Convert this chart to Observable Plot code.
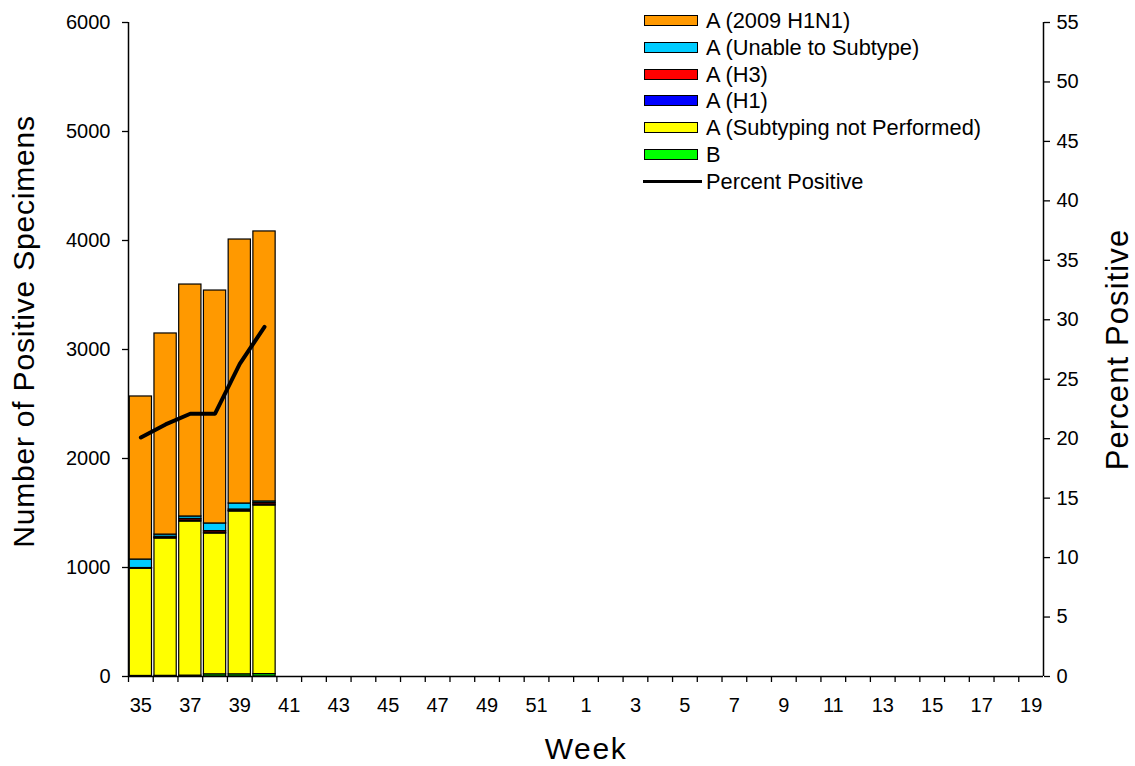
<!DOCTYPE html>
<html>
<head>
<meta charset="utf-8">
<script src="https://cdn.jsdelivr.net/npm/d3@7"></script>
<script src="https://cdn.jsdelivr.net/npm/@observablehq/plot@0.6"></script>
<style>
  html, body { margin: 0; padding: 0; background: #fff; }
  #wrap { position: relative; width: 1135px; height: 766px; font-family: "Liberation Sans", Arial, sans-serif; }
  #legend { position: absolute; left: 643px; top: 7px; font-size: 21.8px; color: #000; }
  .row { position: absolute; left: 0; height: 27px; white-space: nowrap; }
  .sw { position: absolute; left: 1px; width: 52px; height: 9px; border: 1.3px solid #000; }
  .ln { position: absolute; left: 0; width: 59px; height: 3.5px; background: #000; }
  .lab { position: absolute; left: 63px; top: 0; line-height: 27px; }
</style>
</head>
<body>
<div id="wrap"><div id="legend"></div></div>
<script>
// ---- data ----
const weeks = ["35","36","37","38","39","40","41","42","43","44","45","46","47","48","49","50","51","52",
               "1","2","3","4","5","6","7","8","9","10","11","12","13","14","15","16","17","18","19"];
const labelWeeks = ["35","37","39","41","43","45","47","49","51","1","3","5","7","9","11","13","15","17","19"];
const dataWeeks = ["35","36","37","38","39","40"];
const seriesNames = ["B","A (Subtyping not Performed)","A (H1)","A (H3)","A (Unable to Subtype)","A (2009 H1N1)"];
const seriesColors = ["#00FF00","#FFFF00","#0000FF","#FF0000","#00CCFF","#FF9900"];
const bValues = [5, 6, 8, 20, 20, 22];
const notPerformed = [985, 1260, 1414, 1292, 1494, 1547];
const h1Values = [2, 6, 10, 8, 6, 8];
const h3Values = [3, 10, 14, 14, 12, 14];
const unableValues = [78, 20, 22, 70, 55, 15];
const h1n1Values = [1496, 1845, 2128, 2137, 2422, 2477];
const percentPositive = [20.1, 21.2, 22.1, 22.1, 26.3, 29.4];
const leftTicks = [0, 1000, 2000, 3000, 4000, 5000, 6000];
const rightTicks = [0, 5, 10, 15, 20, 25, 30, 35, 40, 45, 50, 55];
const legendOrder = ["A (2009 H1N1)","A (Unable to Subtype)","A (H3)","A (H1)","A (Subtyping not Performed)","B"];
const leftTitle = "Number of Positive Specimens";
const rightTitle = "Percent Positive";
const xTitle = "Week";

// ---- build tables ----
const seriesValues = [bValues, notPerformed, h1Values, h3Values, unableValues, h1n1Values];
const rows = [];
dataWeeks.forEach((w, i) => {
  seriesNames.forEach((s, k) => rows.push({week: w, series: s, value: seriesValues[k][i]}));
});
const pctRows = dataWeeks.map((w, i) => ({week: w, pct: percentPositive[i]}));

const W = 1135, H = 766, mL = 128, mR = 92, mT = 22, mB = 90;
const yMax = 6000, pMax = 55, ratio = yMax / pMax;
const step = (W - mL - mR) / weeks.length;

const chart = Plot.plot({
  width: W, height: H,
  marginLeft: mL, marginRight: mR, marginTop: mT, marginBottom: mB,
  style: {fontFamily: "Liberation Sans, Arial, sans-serif", fontSize: "20px", color: "#000", background: "transparent"},
  x: {type: "band", domain: weeks, paddingInner: 0.1, paddingOuter: 0.05, round: false, axis: null},
  y: {domain: [0, yMax], axis: null},
  color: {domain: seriesNames, range: seriesColors},
  marks: [
    Plot.barY(rows, {x: "week", y: "value", fill: "series", order: seriesNames, stroke: "#000", strokeWidth: 1.2}),
    Plot.line(pctRows, {x: "week", y: d => d.pct * ratio, stroke: "#000", strokeWidth: 4, strokeLinejoin: "round", strokeLinecap: "round"}),
    Plot.ruleY([0], {stroke: "#000", strokeWidth: 1.5}),
    Plot.ruleX([weeks[0]], {dx: -step / 2, stroke: "#000", strokeWidth: 1.5}),
    Plot.ruleX([weeks[weeks.length - 1]], {dx: step / 2, stroke: "#000", strokeWidth: 1.5}),
    Plot.axisX({ticks: weeks, tickFormat: () => "", tickSize: 6, dx: -step / 2, strokeWidth: 1.3, label: null}),
    Plot.axisX({ticks: labelWeeks, tickSize: 0, tickPadding: 21, fontSize: 20, label: null}),
    Plot.axisY({ticks: leftTicks, tickSize: 6, tickPadding: 12, tickFormat: d3.format("d"), label: null, fontSize: 20, strokeWidth: 1.3}),
    Plot.axisY({anchor: "right", ticks: rightTicks.map(p => p * ratio), tickFormat: v => String(Math.round(v / ratio)), tickSize: 6, tickPadding: 7, label: null, fontSize: 20, strokeWidth: 1.3}),
    Plot.text([leftTitle], {frameAnchor: "left", textAnchor: "middle", dx: -104, dy: -18, rotate: -90, fontSize: 30, text: d => d}),
    Plot.text([rightTitle], {frameAnchor: "right", textAnchor: "middle", dx: 75, rotate: -90, fontSize: 31, text: d => d}),
    Plot.text([xTitle], {frameAnchor: "bottom", dy: 82, fontSize: 30, text: d => d})
  ]
});
document.getElementById("wrap").prepend(chart);

// slight letter spacing on the titles to match the reference's wider setting
const spacing = {[leftTitle]: "0.8px", [rightTitle]: "1.1px", [xTitle]: "1.6px"};
d3.select(chart).selectAll("text").each(function() {
  const s = spacing[this.textContent];
  if (s) this.setAttribute("letter-spacing", s);
});

// ---- legend ----
const legend = document.getElementById("legend");
const colorOf = Object.fromEntries(seriesNames.map((s, i) => [s, seriesColors[i]]));
legendOrder.forEach((s, i) => {
  const r = document.createElement("div");
  r.className = "row"; r.style.top = (i * 26.8) + "px";
  r.innerHTML = `<div class="sw" style="top:8px;background:${colorOf[s]}"></div><div class="lab">${s}</div>`;
  legend.appendChild(r);
});
const r = document.createElement("div");
r.className = "row"; r.style.top = (6 * 26.8) + "px";
r.innerHTML = `<div class="ln" style="top:12px"></div><div class="lab">Percent Positive</div>`;
legend.appendChild(r);
chart.style.position = "absolute"; chart.style.left = "0"; chart.style.top = "0";
</script>
</body>
</html>
